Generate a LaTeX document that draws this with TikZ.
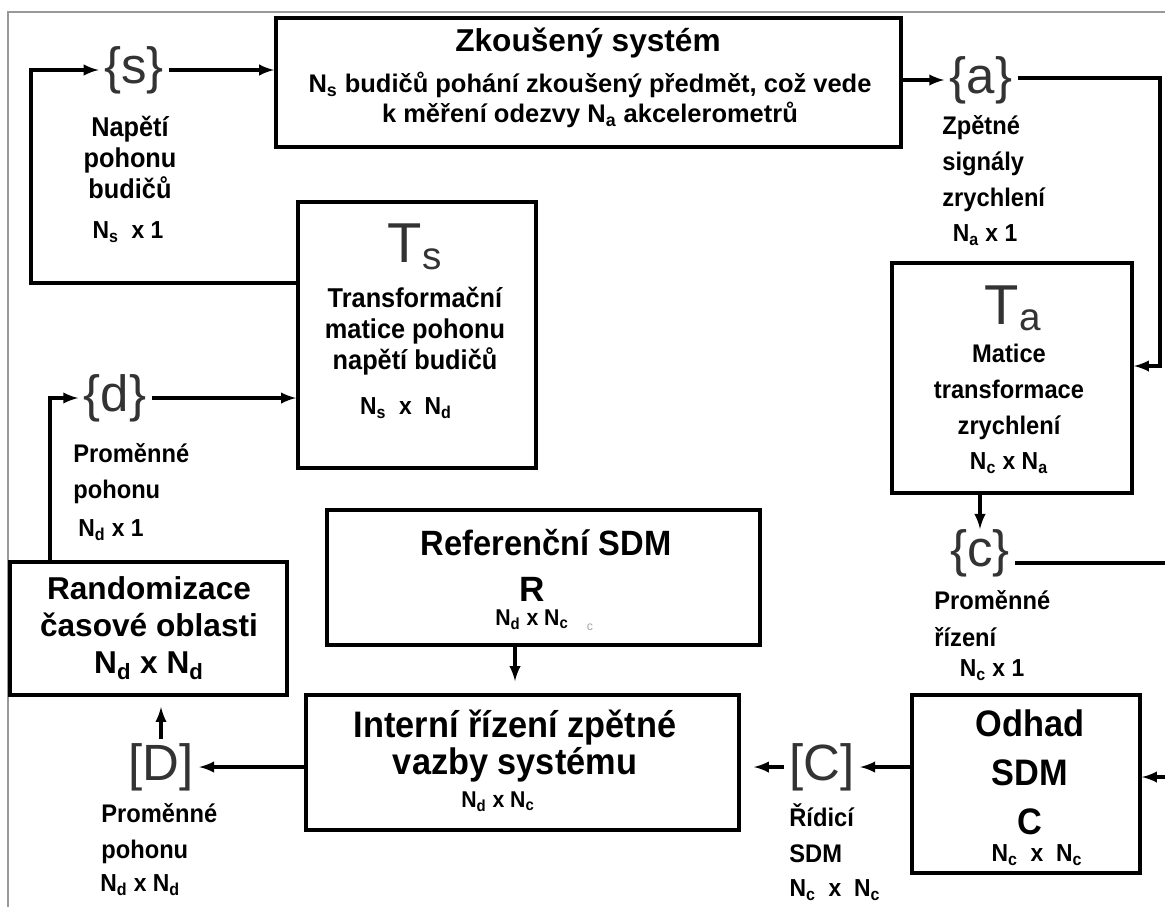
\documentclass[tikz,border=0pt]{standalone}
\usepackage{fontspec}
\setmainfont{Liberation Sans}
\newfontfamily\narrowfont[FakeStretch=0.93]{Liberation Sans}
\usepackage{tikz}
\usetikzlibrary{arrows}
\newcommand{\Nsub}[1]{N\textsubscript{#1}}
\tikzstyle{block} = [draw,line width=2.3pt,inner sep=0mm]
\tikzstyle{wire} = [line width=1.9pt]
\tikzstyle{arr} = [wire,-latex]
\tikzstyle{vec} = [text=black!80,font=\fontsize{29}{29}\selectfont,inner xsep=3pt,inner ysep=0pt]
\tikzstyle{sym} = [text=black!80,font=\fontsize{32}{32}\selectfont,inner sep=0mm]
\tikzstyle{symsub} = [text=black!80,font=\fontsize{22}{22}\selectfont,inner sep=0mm]
\tikzstyle{lbl} = [font=\narrowfont\bfseries\fontsize{14.5}{20.7}\selectfont,inner sep=0mm,align=left]
\tikzstyle{dim} = [font=\narrowfont\bfseries\fontsize{14}{16}\selectfont,inner sep=0mm]
\tikzstyle{head} = [font=\narrowfont\bfseries\fontsize{21}{28}\selectfont,inner sep=0mm,align=center]

\begin{document}
\begin{tikzpicture}[x=0.02cm,y=-0.02cm]
\useasboundingbox (0,0) rectangle (1165,907);
\fill[white] (0,0) rectangle (1165,907);
\draw[black!40,line width=1.1pt] (8,907) -- (8,12) -- (1165,12);

% blocks
\node[block,minimum width=12.5cm,minimum height=2.58cm] (sys) at (588.5,82.5) {};
\node[block,minimum width=4.76cm,minimum height=5.32cm] (Ts) at (417,335) {};
\node[block,minimum width=4.8cm,minimum height=4.6cm] (Ta) at (1012,378) {};
\node[block,minimum width=5.54cm,minimum height=2.66cm] (rand) at (148.5,628.5) {};
\node[block,minimum width=8.66cm,minimum height=2.7cm] (ref) at (543.5,577.5) {};
\node[block,minimum width=8.66cm,minimum height=2.7cm] (intern) at (522.5,762.5) {};
\node[block,minimum width=4.56cm,minimum height=3.56cm] (odhad) at (1026,784) {};

% texts inside the blocks
\node[font=\bfseries\fontsize{18}{20}\selectfont,inner sep=0mm] (systitle) at (588,43) {Zkoušený systém};
\node[font=\bfseries\fontsize{14.5}{17}\selectfont,inner sep=0mm,align=center] (systxt) at (590,100)
  {\Nsub{s} budičů pohání zkoušený předmět, což vede\\k měření odezvy \Nsub{a} akcelerometrů};

\node[sym] (tssym) at (405,243) {T};
\node[symsub,anchor=west] (tssub) at (tssym.east |- 0,259) {s};
\node[lbl,align=center,font=\narrowfont\bfseries\fontsize{15.5}{17.6}\selectfont] (tstxt) at (415,331)
  {Transformační\\matice pohonu\\napětí budičů};
\node[dim] (tsdim) at (406,408) {\Nsub{s}\ \ x\ \ \Nsub{d}};

\node[sym] (tasym) at (1002,305) {T};
\node[symsub,anchor=west] (tasub) at (tasym.east |- 0,320) {a};
\node[lbl,align=center] (tatxt) at (1009,392) {Matice\\transformace\\zrychlení};
\node[dim] (tadim) at (1009,463) {\Nsub{c} x \Nsub{a}};

\node[font=\bfseries\fontsize{18}{21.3}\selectfont,inner sep=0mm,align=center] (randtxt) at (149,628)
  {Randomizace\\časové oblasti\\\Nsub{d} x \Nsub{d}};

\node[head,font=\narrowfont\bfseries\fontsize{20}{22}\selectfont] (reftitle) at (546,543) {Referenční SDM};
\node[head,font=\bfseries\fontsize{20}{22}\selectfont] (R) at (532,589) {R};
\node[dim,font=\narrowfont\bfseries\fontsize{13}{15}\selectfont] (refdim) at (532,620) {\Nsub{d} x \Nsub{c}};
\node[text=black!35,font=\fontsize{7}{8}\selectfont,inner sep=0mm] (refc) at (590,627) {c};

\node[head,font=\narrowfont\bfseries\fontsize{21}{21.5}\selectfont] (interntxt) at (515,746)
  {Interní řízení zpětné\\vazby systému};
\node[dim,font=\narrowfont\bfseries\fontsize{13}{15}\selectfont] (interndim) at (498,802) {\Nsub{d}\ x \Nsub{c}};

\node[head] (odhadtxt) at (1030,772) {Odhad\\SDM\\C};
\node[dim] (odhaddim) at (1037,855) {\Nsub{c}\ \ x\ \ \Nsub{c}};

% signal vectors
\node[vec] (s) at (134,70) {\{s\}};
\node[vec] (a) at (981,80) {\{a\}};
\node[vec] (d) at (115,398) {\{d\}};
\node[vec] (c) at (980,553) {\{c\}};
\node[vec,inner ysep=2pt] (D) at (161,767) {[D]};
\node[vec] (C) at (822,767) {[C]};

% labels beside the signals
\node[lbl,align=center,font=\narrowfont\bfseries\fontsize{15.5}{17.6}\selectfont] (slbl) at (130,157.5)
  {Napětí\\pohonu\\budičů};
\node[dim] (sdim) at (128,232) {\Nsub{s}\ \ x 1};
\node[lbl,anchor=west] (albl) at (942,163.5) {Zpětné\\signály\\zrychlení};
\node[dim] (adim) at (985,235) {\Nsub{a} x 1};
\node[lbl,anchor=west] (dlbl) at (73,473.5) {Proměnné\\pohonu};
\node[dim,anchor=west] (ddim) at (78,530) {\Nsub{d} x 1};
\node[lbl,anchor=west] (clbl) at (934,618.5) {Proměnné\\řízení};
\node[dim] (cdim) at (992,670) {\Nsub{c} x 1};
\node[lbl,anchor=west] (Dlbl) at (101,833.5) {Proměnné\\pohonu};
\node[dim,anchor=west] (Ddim) at (100,885) {\Nsub{d} x \Nsub{d}};
\node[lbl,anchor=west] (Clbl) at (789,833.5) {Řídicí\\SDM};
\node[dim] (Cdim) at (835,890) {\Nsub{c}\ \ x\ \ \Nsub{c}};

% connections
\coordinate (loopB) at (31,283);
\coordinate (loopT) at (31,70);
\draw[arr] (Ts.west |- loopB) -- (loopB) -- (loopT) -- (s.west);
\draw[arr] (s.east) -- (sys.west |- s.east);
\draw[arr] (sys.east |- a.west) -- (a.west);
\coordinate (aR) at (1160,78);
\coordinate (aD) at (1160,366);
\draw[arr] (a.east |- aR) -- (aR) -- (aD) -- (Ta.east |- aD);
\draw[arr] (Ta.south -| c.north) -- (c.north);
\coordinate (cR) at (1165,563);
\draw[wire] (c.east |- cR) -- (cR);
\coordinate (oR) at (1165,777);
\draw[arr] (oR) -- (odhad.east |- oR);
\draw[arr] (odhad.west |- C.east) -- (C.east);
\draw[arr,shorten >=0.26cm] (C.west) -- (intern.east |- C.west);
\draw[arr] (intern.west |- D.east) -- (D.east);
\draw[arr,shorten >=0.2cm] (D.north) -- (rand.south -| D.north);
\coordinate (dL) at (50,398);
\draw[arr] (rand.north -| dL) -- (dL) -- (d.west);
\draw[arr] (d.east) -- (Ts.west |- d.east);
\coordinate (rdown) at (515,0);
\draw[arr,shorten >=0.24cm] (ref.south -| rdown) -- (intern.north -| rdown);

\end{tikzpicture}
\end{document}
